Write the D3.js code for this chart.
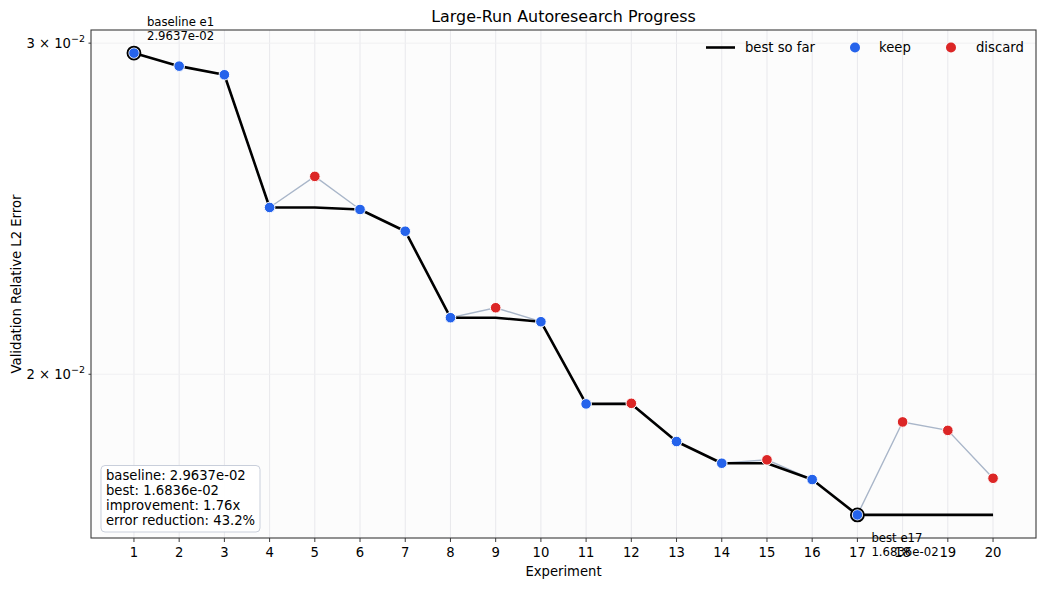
<!DOCTYPE html>
<html><head><meta charset="utf-8">
<script src="https://cdn.jsdelivr.net/npm/d3@7"></script>
<style>body{margin:0;background:#fff}svg{display:block;font-family:"DejaVu Sans",sans-serif}</style>
</head><body><svg id="c" width="1046" height="589"></svg>
<script>
const experiments = [1,2,3,4,5,6,7,8,9,10,11,12,13,14,15,16,17,18,19,20];
const errors = [0.029637,0.029167,0.028861,0.024532,0.025484,0.024472,0.023829,0.021435,0.021698,0.021330,
                0.019287,0.019301,0.018419,0.017936,0.018011,0.017581,0.016836,0.018866,0.018672,0.017609];
const status = ["keep","keep","keep","keep","discard","keep","keep","keep","discard","keep",
                "keep","discard","keep","keep","discard","keep","keep","discard","discard","discard"];
const yTicks = [0.02, 0.03];
const statsLines = ["baseline: 2.9637e-02","best: 1.6836e-02","improvement: 1.76x","error reduction: 43.2%"];

const svg = d3.select("#c");
const L=91,R=1036,T=30,B=538;
const FS=13.2;
const lmin=Math.log10(d3.min(errors)), lmax=Math.log10(d3.max(errors)), m=(lmax-lmin)*0.05;
const x=d3.scaleLinear().domain([1-0.95,20+0.95]).range([L,R]);
const y=d3.scaleLog().domain([Math.pow(10,lmin-m),Math.pow(10,lmax+m)]).range([B,T]);
const best=[]; let cur=Infinity;
errors.forEach(v=>{cur=Math.min(cur,v);best.push(cur);});
const data=experiments.map((e,i)=>({e,v:errors[i],s:status[i],b:best[i]}));

svg.append("rect").attr("x",L).attr("y",T).attr("width",R-L).attr("height",B-T).attr("fill","#fcfcfc");
// grid
svg.append("g").selectAll("line").data(experiments).join("line")
  .attr("x1",d=>x(d)).attr("x2",d=>x(d)).attr("y1",T).attr("y2",B)
  .attr("stroke","#e8e8ec").attr("stroke-width",1);
svg.append("g").selectAll("line").data(yTicks).join("line")
  .attr("x1",L).attr("x2",R).attr("y1",d=>y(d)).attr("y2",d=>y(d))
  .attr("stroke","#f0f0f2").attr("stroke-width",1);

// actual line
svg.append("path").datum(data).attr("fill","none").attr("stroke","#a9b6c9").attr("stroke-width",1.4)
  .attr("d",d3.line().x(d=>x(d.e)).y(d=>y(d.v)));
// best so far
svg.append("path").datum(data).attr("fill","none").attr("stroke","#000").attr("stroke-width",2.6)
  .attr("stroke-linejoin","round")
  .attr("d",d3.line().x(d=>x(d.e)).y(d=>y(d.b)));
// points
const col={keep:"#2563eb",discard:"#dc2626"};
svg.append("g").selectAll("circle").data(data).join("circle")
  .attr("cx",d=>x(d.e)).attr("cy",d=>y(d.v)).attr("r",5.3)
  .attr("fill",d=>col[d.s]).attr("stroke","#fff").attr("stroke-width",1);
// highlight baseline & best
const bi=errors.indexOf(d3.min(errors));
[0,bi].forEach(i=>{
  svg.append("circle").attr("cx",x(experiments[i])).attr("cy",y(errors[i])).attr("r",6.5)
    .attr("fill","none").attr("stroke","#000").attr("stroke-width",1.8);
});

// spines
svg.append("rect").attr("x",L).attr("y",T).attr("width",R-L).attr("height",B-T)
  .attr("fill","none").attr("stroke","#3a3a3a").attr("stroke-width",1.1);

// x ticks
const xt=svg.append("g");
experiments.forEach(e=>{
  xt.append("line").attr("x1",x(e)).attr("x2",x(e)).attr("y1",B).attr("y2",B+4).attr("stroke","#3a3a3a");
  xt.append("text").attr("x",x(e)).attr("y",B+19).attr("text-anchor","middle").attr("font-size",FS).text(e);
});
// y ticks
yTicks.forEach(t=>{
  const yy=y(t);
  svg.append("line").attr("x1",L-2.5).attr("x2",L).attr("y1",yy).attr("y2",yy).attr("stroke","#3a3a3a");
  const tx=svg.append("text").attr("x",L-6).attr("y",yy+4.5).attr("text-anchor","end").attr("font-size",FS);
  const mant=Math.round(t/0.01);
  tx.append("tspan").text(mant+" \u00d7 10");
  tx.append("tspan").attr("dy",-5.5).attr("font-size",9.5).text("\u22122");
});

// labels
svg.append("text").attr("x",(L+R)/2).attr("y",22).attr("text-anchor","middle").attr("font-size",15.9).text("Large-Run Autoresearch Progress");
svg.append("text").attr("x",(L+R)/2).attr("y",576).attr("text-anchor","middle").attr("font-size",FS).text("Experiment");
svg.append("text").attr("transform",`translate(21,${(T+B)/2}) rotate(-90)`).attr("text-anchor","middle").attr("font-size",FS).text("Validation Relative L2 Error");

// annotations
function ann(i,label,dx,dy){
  const t=svg.append("text").attr("x",x(experiments[i])+dx).attr("y",y(errors[i])+dy).attr("font-size",11.7);
  t.append("tspan").attr("x",x(experiments[i])+dx).text(label);
  t.append("tspan").attr("x",x(experiments[i])+dx).attr("dy",14).text(errors[i].toExponential(4).replace(/e-(\d)$/,"e-0$1"));
}
ann(0,"baseline e1",13,-27);
ann(bi,"best e17",14,27);

// stats box
const bx=101,by=465.5;
svg.append("rect").attr("x",bx).attr("y",by).attr("width",159).attr("height",66.5).attr("rx",4)
  .attr("fill","#fff").attr("fill-opacity",0.92).attr("stroke","#c9cfdb").attr("stroke-width",1);
statsLines.forEach((s,i)=>svg.append("text").attr("x",bx+5).attr("y",by+14+i*15).attr("font-size",FS).text(s));

// legend
const ly=47.5;
svg.append("line").attr("x1",706).attr("x2",735).attr("y1",ly).attr("y2",ly).attr("stroke","#000").attr("stroke-width",2.6);
svg.append("text").attr("x",745).attr("y",ly+4.5).attr("font-size",FS).text("best so far");
svg.append("circle").attr("cx",855).attr("cy",ly).attr("r",5).attr("fill",col.keep);
svg.append("text").attr("x",879).attr("y",ly+4.5).attr("font-size",FS).text("keep");
svg.append("circle").attr("cx",951).attr("cy",ly).attr("r",5).attr("fill",col.discard);
svg.append("text").attr("x",976).attr("y",ly+4.5).attr("font-size",FS).text("discard");
</script></body></html>
